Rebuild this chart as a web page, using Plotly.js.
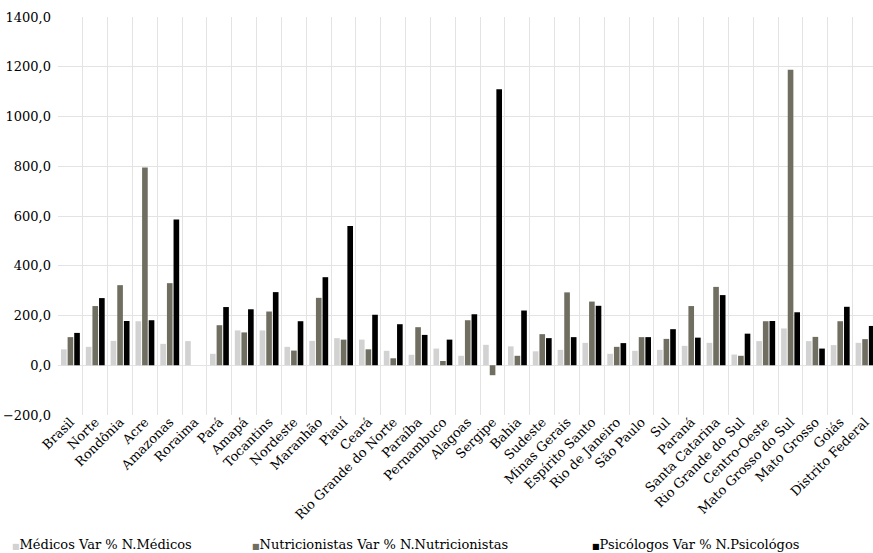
<!DOCTYPE html>
<html>
<head>
<meta charset="utf-8">
<script src="https://cdn.plot.ly/plotly-3.0.1.min.js"></script>
<style>html,body{margin:0;padding:0;background:#fff;}#chart{width:873px;height:553px;}</style>
</head>
<body>
<div id="chart"></div>
<script>
var categories = ["Brasil","Norte","Rondônia","Acre","Amazonas","Roraima","Pará","Amapá","Tocantins","Nordeste","Maranhão","Piauí","Ceará","Rio Grande do Norte","Paraíba","Pernambuco","Alagoas","Sergipe","Bahia","Sudeste","Minas Gerais","Espírito Santo","Rio de Janeiro","São Paulo","Sul","Paraná","Santa Catarina","Rio Grande do Sul","Centro-Oeste","Mato Grosso do Sul","Mato Grosso","Goiás","Distrito Federal"];
var medicos = [64,74,98,177,86,97,46,140,140,74,98,109,103,58,42,67,38,82,76,56,62,90,46,58,62,78,90,43,97,148,97,81,90];
var nutricionistas = [113,238,322,795,330,null,161,132,216,59,271,103,64,28,153,17,181,-40,38,125,293,256,74,113,106,238,315,38,177,1188,114,177,105];
var psicologos = [130,270,178,181,586,null,234,225,294,177,354,560,203,165,122,103,205,1110,220,109,113,239,89,113,145,111,282,127,178,213,67,235,158];
var seriesNames = ["Médicos Var % N.Médicos","Nutricionistas Var % N.Nutricionistas","Psicólogos Var % N.Psicológos"];
var yTicks = [-200,0,200,400,600,800,1000,1200,1400];

var colors = ["#d2d2d2","#706e60","#000000"];
var font = "DejaVu Serif";
var vals = [medicos, nutricionistas, psicologos];
var data = vals.map(function(v,i){
  return {type:"bar", x:categories, y:v, name:seriesNames[i], marker:{color:colors[i]}, showlegend:false, hoverinfo:"x+y"};
});
var legX = [-0.0589, 0.2356, 0.6528];
var annotations = seriesNames.map(function(n,i){
  return {xref:"paper", yref:"paper", x:legX[i], y:-0.3266, xanchor:"left", yanchor:"middle", showarrow:false,
    text:'<span style="color:'+colors[i]+';font-size:8px">■</span>'+n, font:{family:font, size:13, color:"#000"}};
});
var layout = {
  width:873, height:553,
  margin:{l:58, r:0, t:17, b:138, pad:0},
  paper_bgcolor:"#fff", plot_bgcolor:"#fff",
  barmode:"group", bargap:0.2, bargroupgap:0.15,
  font:{family:font, size:13, color:"#000"},
  xaxis:{type:"category", range:[-0.5, 32.32], tickson:"boundaries", showgrid:true, gridcolor:"#e3e3e3", gridwidth:1,
    tickangle:-45, ticks:"", showline:false, zeroline:false, ticklabelstandoff:-4,
    tickfont:{family:font, size:13, color:"#000"}, automargin:false},
  yaxis:{range:[-200,1400], tickvals:yTicks, tickformat:".1f", showgrid:true, gridcolor:"#e3e3e3", gridwidth:1,
    zeroline:true, zerolinecolor:"#e3e3e3", zerolinewidth:1, ticks:"", showline:false, ticklabelstandoff:6,
    tickfont:{family:font, size:13, color:"#000"}, automargin:false},
  separators:",.",
  annotations:annotations
};
Plotly.newPlot("chart", data, layout, {displayModeBar:false, staticPlot:true});
</script>
</body>
</html>
